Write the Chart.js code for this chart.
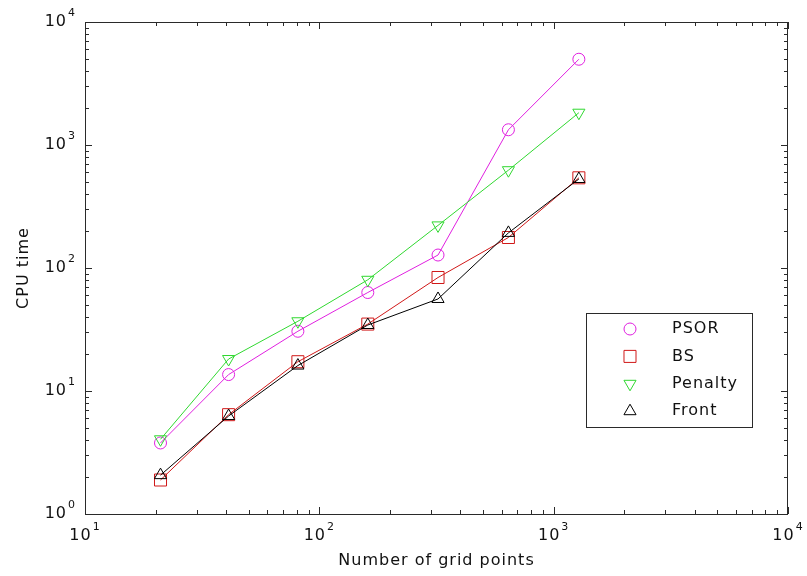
<!DOCTYPE html>
<html>
<head>
<meta charset="utf-8">
<script src="https://cdn.jsdelivr.net/npm/chart.js@4/dist/chart.umd.min.js"></script>
<style>
  body { margin: 0; background: #fff; }
  canvas { display: block; }
</style>
</head>
<body>
<canvas id="cpu" width="807" height="576"></canvas>
<script>
// values
const gridPoints = [21, 41, 81, 161, 321, 641, 1281];
const psor = [3.78, 13.6, 30.6, 63.2, 127.5, 1330, 4980];
const bs = [1.89, 6.42, 17.3, 35, 83.7, 177, 541];
const penalty = [4.05, 18.2, 36.9, 80.2, 222, 624, 1830];
const front = [2.07, 6.26, 16.1, 34.4, 56, 193, 529];

// tick labels are powers of ten: 10^exp
const xTickExps = [1, 2, 3, 4];
const yTickExps = [0, 1, 2, 3, 4];

const FONT = '"DejaVu Sans", sans-serif';

/**
 * Builds the 1..9 x 10^n ticks between two decades.
 */
function logTicks(exps) {
    let ticks = [];
    for (let i = 0; i < exps.length; i++) {
        let base = Math.pow(10, exps[i]);
        ticks.push({ value: base, major: true, exp: exps[i] });
        if (i < exps.length - 1) {
            for (let k = 2; k <= 9; k++) {
                ticks.push({ value: k * base, major: false });
            }
        }
    }
    return ticks;
}

function points(ys) {
    return gridPoints.map((g, i) => ({ x: g, y: ys[i] }));
}

/**
 * Draws "10" with a raised exponent, starting at x.
 */
function drawPower(ctx, exp, x, y) {
    ctx.font = '16px ' + FONT;
    ctx.fillText('10', x, y);
    let w = ctx.measureText('10').width;
    ctx.font = '11px ' + FONT;
    ctx.fillText(String(exp), x + w + 1, y - 9);
}

function powerWidth(ctx, exp) {
    ctx.font = '16px ' + FONT;
    let w = ctx.measureText('10').width;
    ctx.font = '11px ' + FONT;
    return w + 1 + ctx.measureText(String(exp)).width;
}

// MATLAB style box: inward ticks on all sides, labels, titles, legend
const matlabAxes = {
    id: 'matlabAxes',
    afterDraw(chart) {
        const { ctx, chartArea: a, scales } = chart;
        const x = scales.x, y = scales.y;
        ctx.save();
        ctx.strokeStyle = '#2a2a2a';
        ctx.lineWidth = 1;
        ctx.strokeRect(a.left + 0.5, a.top + 0.5, a.right - a.left - 1, a.bottom - a.top);

        ctx.beginPath();
        x.ticks.forEach((t) => {
            let px = Math.round(x.getPixelForValue(t.value)) + 0.5;
            let len = t.major ? 7 : 4;
            ctx.moveTo(px, a.bottom);
            ctx.lineTo(px, a.bottom - len);
            ctx.moveTo(px, a.top);
            ctx.lineTo(px, a.top + len);
        });
        y.ticks.forEach((t) => {
            let py = Math.round(y.getPixelForValue(t.value)) + 0.5;
            let len = t.major ? 7 : 4;
            ctx.moveTo(a.left, py);
            ctx.lineTo(a.left + len, py);
            ctx.moveTo(a.right, py);
            ctx.lineTo(a.right - len, py);
        });
        ctx.stroke();

        ctx.fillStyle = '#111';
        ctx.textBaseline = 'middle';
        ctx.textAlign = 'left';
        ctx.letterSpacing = '1px';
        x.ticks.filter((t) => t.major).forEach((t) => {
            let px = x.getPixelForValue(t.value);
            let w = powerWidth(ctx, t.exp);
            drawPower(ctx, t.exp, px - w / 2, a.bottom + 22);
        });
        y.ticks.filter((t) => t.major).forEach((t) => {
            let py = y.getPixelForValue(t.value);
            let w = powerWidth(ctx, t.exp);
            drawPower(ctx, t.exp, a.left - 9 - w, py);
        });

        // axis titles
        ctx.font = '16px ' + FONT;
        ctx.textAlign = 'center';
        ctx.fillText('Number of grid points', (a.left + a.right) / 2, 561);
        ctx.save();
        ctx.translate(24, (a.top + a.bottom) / 2);
        ctx.rotate(-Math.PI / 2);
        ctx.fillText('CPU time', 0, 0);
        ctx.restore();

        // legend box
        ctx.fillStyle = '#fff';
        ctx.fillRect(586, 313, 166, 114);
        ctx.strokeRect(586.5, 313.5, 166, 114);
        ctx.textAlign = 'left';
        chart.data.datasets.forEach((ds, i) => {
            let ry = 329 + i * 27.4;
            ctx.save();
            ctx.strokeStyle = ds.borderColor;
            ctx.fillStyle = 'rgba(0,0,0,0)';
            ctx.lineWidth = 1;
            Chart.helpers.drawPoint(ctx, {
                pointStyle: ds.pointStyle,
                radius: ds.pointRadius,
                rotation: ds.pointRotation || 0,
                borderWidth: 1
            }, 630, ry);
            ctx.restore();
            ctx.fillStyle = '#111';
            ctx.font = '16px ' + FONT;
            ctx.fillText(ds.label, 672, ry);
        });
        ctx.restore();
    }
};

function lineSet(label, ys, color, style, radius, order) {
    return {
        label: label,
        data: points(ys),
        borderColor: color,
        borderWidth: 1,
        pointStyle: style,
        pointRadius: radius,
        pointHoverRadius: radius,
        pointBorderWidth: 1,
        pointBorderColor: color,
        pointBackgroundColor: 'rgba(0,0,0,0)',
        fill: false,
        tension: 0,
        order: order
    };
}

let datasets = [
    lineSet('PSOR', psor, '#e020e0', 'circle', 6, 4),
    lineSet('BS', bs, '#d01818', 'rect', 8.5, 3),
    lineSet('Penalty', penalty, '#30d830', 'triangle', 7, 2),
    lineSet('Front', front, '#000000', 'triangle', 7, 1)
];
datasets[2].pointRotation = 180;

new Chart(document.getElementById('cpu'), {
    type: 'line',
    data: { datasets: datasets },
    options: {
        responsive: false,
        animation: false,
        devicePixelRatio: 1,
        layout: { padding: { top: 22, right: 19, left: 0, bottom: 0 } },
        plugins: {
            legend: { display: false },
            tooltip: { enabled: false }
        },
        scales: {
            x: {
                type: 'logarithmic',
                min: 10,
                max: 10000,
                grid: { display: false },
                border: { display: false },
                ticks: { display: false },
                afterBuildTicks: (scale) => { scale.ticks = logTicks(xTickExps); },
                afterFit: (scale) => { scale.height = 62; }
            },
            y: {
                type: 'logarithmic',
                min: 1,
                max: 10000,
                grid: { display: false },
                border: { display: false },
                ticks: { display: false },
                afterBuildTicks: (scale) => { scale.ticks = logTicks(yTickExps); },
                afterFit: (scale) => { scale.width = 85; }
            }
        }
    },
    plugins: [matlabAxes]
});
</script>
</body>
</html>
